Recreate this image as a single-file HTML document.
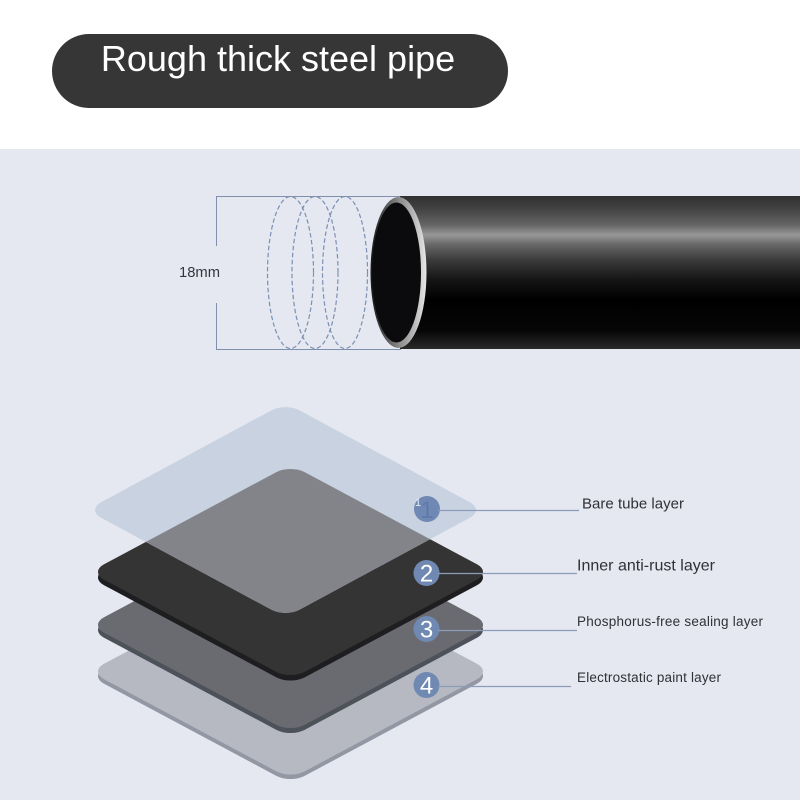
<!DOCTYPE html>
<html>
<head>
<meta charset="utf-8">
<style>
html,body{margin:0;padding:0;background:#fff;}
svg{display:block;font-family:"Liberation Sans",sans-serif;}
</style>
</head>
<body>
<svg width="800" height="800" viewBox="0 0 800 800" xmlns="http://www.w3.org/2000/svg">
<defs>
<linearGradient id="pipe" x1="0" y1="0" x2="0" y2="1">
<stop offset="0" stop-color="#303030"/>
<stop offset=".09" stop-color="#444"/>
<stop offset=".19" stop-color="#666"/>
<stop offset=".255" stop-color="#979797"/>
<stop offset=".32" stop-color="#666"/>
<stop offset=".42" stop-color="#3a3a3a"/>
<stop offset=".55" stop-color="#141414"/>
<stop offset=".68" stop-color="#000"/>
<stop offset=".88" stop-color="#060606"/>
<stop offset="1" stop-color="#2a2a2a"/>
</linearGradient>
<linearGradient id="ring" x1="0" y1="0" x2="1" y2="0">
<stop offset="0" stop-color="#161616"/>
<stop offset=".3" stop-color="#5a5a5a"/>
<stop offset=".52" stop-color="#8c8c8c"/>
<stop offset=".8" stop-color="#bdbdbd"/>
<stop offset="1" stop-color="#e8e8e8"/>
</linearGradient>
<linearGradient id="overlap" gradientUnits="userSpaceOnUse" x1="0" y1="469" x2="0" y2="613">
<stop offset="0" stop-color="#838489"/>
<stop offset=".5" stop-color="#8b8e96"/>
<stop offset="1" stop-color="#97a2b5"/>
</linearGradient>
<clipPath id="topclip">
<rect x="-140.5" y="-140.5" width="281" height="281" rx="20" transform="translate(285.5,510) scale(1,.54) rotate(45)"/>
</clipPath>
</defs>

<rect x="0" y="0" width="800" height="149" fill="#ffffff"/>
<rect x="0" y="149" width="800" height="651" fill="#e5e8f1"/>

<rect x="52" y="34" width="456" height="74" rx="37" fill="#363636"/>
<text x="278" y="71" font-size="36" fill="#ffffff" text-anchor="middle">Rough thick steel pipe</text>

<!-- dimension -->
<path d="M401 196.500H216.500V246M216.500 303V349.500H401" fill="none" stroke="#7f90ad" stroke-width="1"/>
<text x="179" y="277" font-size="14.500" fill="#33363c" textLength="41" lengthAdjust="spacingAndGlyphs">18mm</text>
<g fill="none" stroke="#7b90b2" stroke-width="1.200" stroke-dasharray="4.500 2.500">
<ellipse cx="290.500" cy="272.500" rx="23" ry="76"/>
<ellipse cx="315" cy="272.500" rx="23" ry="76"/>
<ellipse cx="345" cy="272.500" rx="22.500" ry="76"/>
</g>

<!-- pipe -->
<rect x="400" y="196" width="400" height="153" fill="url(#pipe)"/>
<ellipse cx="398.500" cy="272.500" rx="28" ry="75.500" fill="url(#ring)"/>
<ellipse cx="396.500" cy="272.500" rx="24.500" ry="70" fill="#0b0b0d"/>

<!-- layer 4 -->
<g transform="translate(290.500,676) scale(1,.535) rotate(45)"><rect x="-142" y="-142" width="284" height="284" rx="20" fill="#9397a4"/></g>
<g transform="translate(290.500,671.500) scale(1,.535) rotate(45)"><rect x="-142" y="-142" width="284" height="284" rx="20" fill="#b6b9c1"/></g>
<!-- layer 3 -->
<g transform="translate(290.500,630) scale(1,.535) rotate(45)"><rect x="-142" y="-142" width="284" height="284" rx="20" fill="#4d5159"/></g>
<g transform="translate(290.500,625) scale(1,.535) rotate(45)"><rect x="-142" y="-142" width="284" height="284" rx="20" fill="#696b70"/></g>
<!-- layer 2 -->
<g transform="translate(290.500,577.500) scale(1,.535) rotate(45)"><rect x="-142" y="-142" width="284" height="284" rx="20" fill="#1e1e21"/></g>
<g transform="translate(290.500,572) scale(1,.535) rotate(45)"><rect x="-142" y="-142" width="284" height="284" rx="20" fill="#353434"/></g>
<!-- top translucent layer -->
<g transform="translate(285.500,510) scale(1,.54) rotate(45)"><rect x="-140.500" y="-140.500" width="281" height="281" rx="20" fill="#c8d2e0"/></g>
<g clip-path="url(#topclip)">
<g transform="translate(290.500,572) scale(1,.535) rotate(45)"><rect x="-142" y="-142" width="284" height="284" rx="20" fill="url(#overlap)"/></g>
</g>

<!-- badges -->
<circle cx="427" cy="509" r="13" fill="#6f89b4"/>
<text x="427" y="518" font-size="24" fill="#5f7aa6" text-anchor="middle">1</text>
<text x="415" y="506" font-size="11" fill="#e8edf5">1</text>
<circle cx="426.500" cy="573" r="13" fill="#7089b2"/>
<text x="426.500" y="581.500" font-size="24" fill="#ffffff" text-anchor="middle">2</text>
<circle cx="426.500" cy="629" r="13" fill="#7089b2"/>
<text x="426.500" y="637.500" font-size="24" fill="#ffffff" text-anchor="middle">3</text>
<circle cx="426.500" cy="685" r="13" fill="#7089b2"/>
<text x="426.500" y="693.500" font-size="24" fill="#ffffff" text-anchor="middle">4</text>

<!-- leader lines -->
<g stroke="#8a9cb8" stroke-width="1.200" fill="none">
<path d="M438 510.500H579"/>
<path d="M438 573.500H577"/>
<path d="M438 630.500H577"/>
<path d="M438 686.500H571"/>
</g>

<!-- labels -->
<g fill="#2f3136">
<text x="582" y="508.500" font-size="15" textLength="102" lengthAdjust="spacing">Bare tube layer</text>
<text x="577" y="570.500" font-size="16" textLength="138" lengthAdjust="spacing">Inner anti-rust layer</text>
<text x="577" y="626" font-size="13.500" textLength="186" lengthAdjust="spacing">Phosphorus-free sealing layer</text>
<text x="577" y="682" font-size="13.500" textLength="144" lengthAdjust="spacing">Electrostatic paint layer</text>
</g>
</svg>
</body>
</html>
